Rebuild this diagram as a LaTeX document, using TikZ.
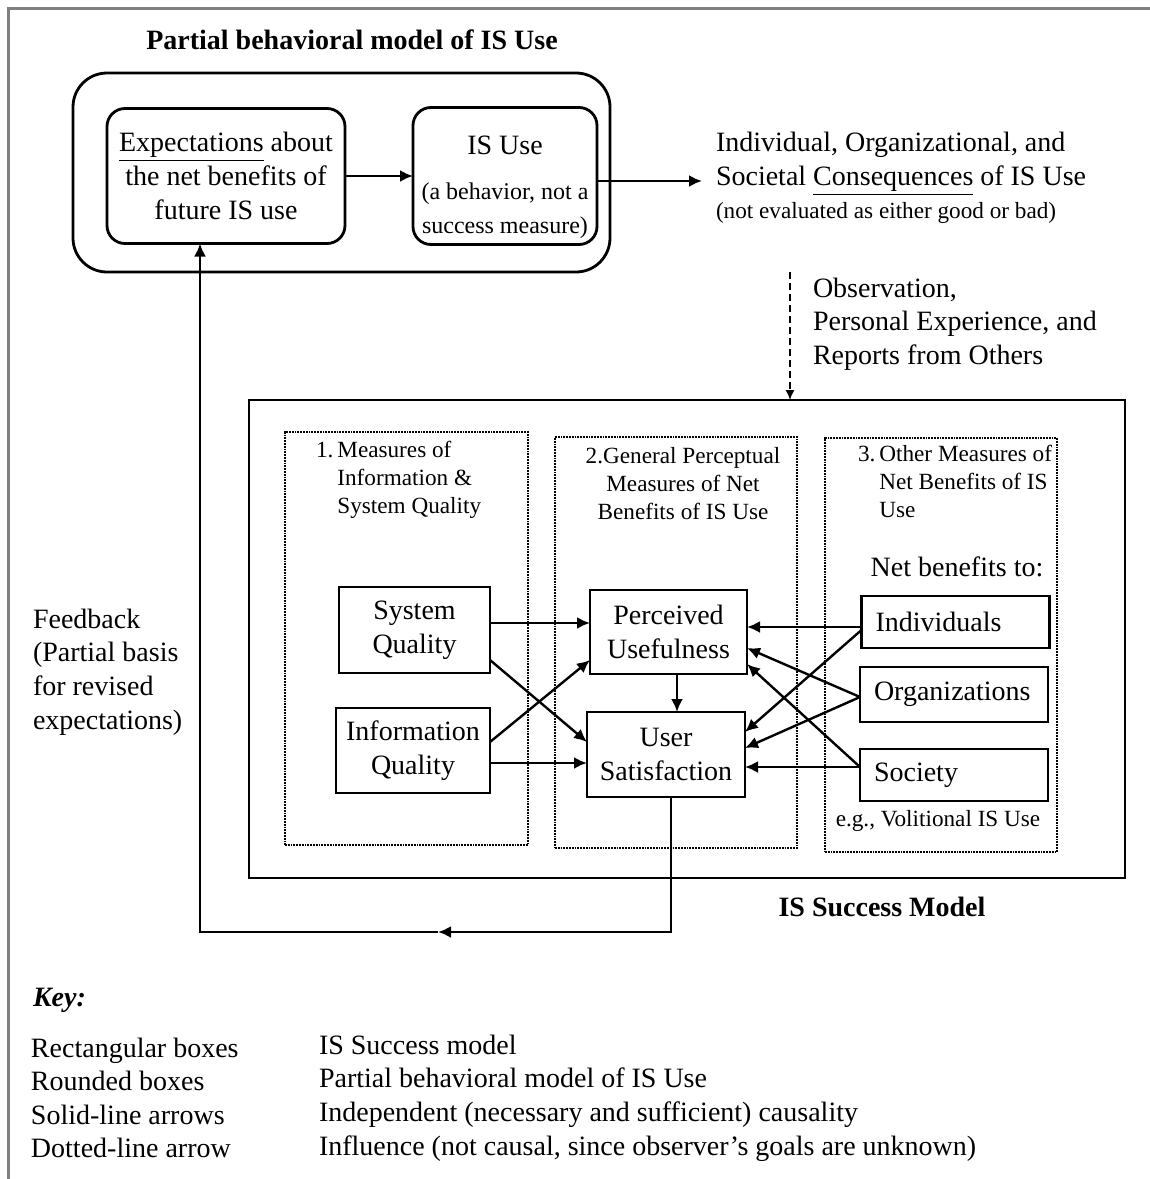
\documentclass[tikz,border=0pt]{standalone}
\usepackage{fontspec}
\setmainfont{Liberation Serif}
\usetikzlibrary{arrows.meta}
\newcommand\txtA{\fontsize{14}{16.8}\selectfont}
\newcommand\txtB{\fontsize{11.6}{14}\selectfont}
\newcommand\txtC{\fontsize{12}{13.6}\selectfont}
\definecolor{framegray}{RGB}{128,128,128}

\begin{document}
\begin{tikzpicture}[x=0.5pt,y=-0.5pt,
  every node/.style={inner sep=0pt, outer sep=0pt},
  sqbox/.style={draw, line width=1.4pt, align=center, font=\txtA},
  rbox/.style={sqbox, rounded corners=9pt},
  listbox/.style={sqbox, align=left, text width=80pt, inner xsep=7pt, minimum height=26pt},
  dotbox/.style={draw, line width=0.6pt, dash pattern=on 0.9pt off 0.5pt},
  arr/.style={line width=1.2pt, -{Latex[length=6.5pt,width=6pt]}},
  influence/.style={line width=0.7pt, dash pattern=on 3.5pt off 2pt, -{Latex[length=5pt,width=4.5pt]}},
  lbl/.style={font=\txtA, align=left}]

% page and frame
\fill[white] (0,0) rectangle (1150,1179);
\useasboundingbox (0,0) rectangle (1150,1179);
\draw[framegray, line width=1.5pt] (8,1179) -- (8,8) -- (1150,8);

% partial behavioral model of IS use
\node[font=\bfseries\txtA] (pbmtitle) at (352,40) {Partial behavioral model of IS Use};
\node[draw, line width=1.4pt, rounded corners=17pt, minimum width=268.5pt, minimum height=99.5pt] (pbm) at (341.5,172.5) {};
\node[rbox, minimum width=119pt, minimum height=67.5pt] (expect) at (226,176)
  {\underline{Expectations} about\\the net benefits of\\future IS use};
\node[rbox, minimum width=92pt, minimum height=68.5pt] (isuse) at (505,176) {};
\node[align=center, font=\txtA] (isusetext) at (505,187)
  {IS Use\\[6pt]\txtC (a behavior, not a\\\txtC success measure)};
\draw[arr] (expect.east) -- (isuse.west);

% consequences
\node[lbl, anchor=west] (conseq) at (716,178)
  {Individual, Organizational, and\\Societal \underline{Consequences} of IS Use\\\txtB (not evaluated as either good or bad)};
\draw[arr] ([yshift=-2.5pt]isuse.east) -- ([yshift=-2.5pt,xshift=-7pt]isuse.east -| conseq.west);

% IS success model
\node[draw, line width=1.4pt, minimum width=438pt, minimum height=239pt] (ism) at (687,639) {};
\node[font=\bfseries\txtA] (ismlabel) at (882,907) {IS Success Model};

% observation / influence
\coordinate (obsstart) at (790,272);
\draw[influence] (obsstart) -- (obsstart |- ism.north);
\node[lbl, anchor=west] (obs) at (813,324)
  {Observation,\\Personal Experience, and\\Reports from Others};

% measure groups
\node[dotbox, minimum width=121.5pt, minimum height=206.5pt] (grp1) at (406.5,638.5) {};
\node[dotbox, minimum width=121pt, minimum height=205.5pt] (grp2) at (676,642.5) {};
\node[dotbox, minimum width=116pt, minimum height=207pt] (grp3) at (941,645) {};

\node[anchor=north west, font=\txtB] (head1) at (316,438)
  {\begin{tabular}{@{}l@{\hspace{2pt}}l@{}}1.&Measures of\\&Information \&\\&System Quality\end{tabular}};
\node[font=\txtB, align=center] (head2) at (683,484)
  {2.General Perceptual\\Measures of Net\\Benefits of IS Use};
\node[anchor=north west, font=\txtB] (head3) at (858,442)
  {\begin{tabular}{@{}l@{\hspace{2pt}}l@{}}3.&Other Measures of\\&Net Benefits of IS\\&Use\end{tabular}};
\node[font=\txtA] (nbto) at (957,567) {Net benefits to:};

% measures
\node[sqbox, minimum width=75.5pt, minimum height=43pt] (sq) at (414.5,630) {System\\Quality};
\node[sqbox, minimum width=77pt, minimum height=42.5pt] (iq) at (413,750.5) {Information\\Quality};
\node[sqbox, minimum width=78.5pt, minimum height=42pt] (pu) at (668.5,632) {Perceived\\Usefulness};
\node[sqbox, minimum width=79pt, minimum height=42.5pt] (us) at (666,754.5) {User\\Satisfaction};
\node[listbox] (ind) at (955.5,622) {Individuals};
\node[listbox, minimum height=27.5pt] (org) at (954,694.5) {Organizations};
\node[listbox] (soc) at (954,775) {Society};
\node[font=\txtB] (eg) at (938,821) {e.g., Volitional IS Use};

% causal links
\draw[arr] ([yshift=3.5pt]sq.east) -- ([yshift=3.5pt]sq.east -| pu.west);
\draw[arr] ([yshift=-15pt]sq.east) -- ([yshift=6.25pt]us.west);
\draw[arr] ([yshift=4.25pt]iq.east) -- ([yshift=-14pt]pu.west);
\draw[arr] ([yshift=-6.25pt]iq.east) -- ([yshift=-6.25pt]iq.east -| us.west);
\draw[arr] ([xshift=4.25pt]pu.south) -- ([xshift=4.25pt]pu.south |- us.north);
\draw[arr] ([yshift=-2.5pt]ind.west) -- ([yshift=-2.5pt]ind.west -| pu.east);
\draw[arr] ([yshift=-4pt]ind.west) -- ([yshift=11.25pt]us.east);
\draw[arr] ([yshift=-1.25pt]org.west) -- ([yshift=-8pt]pu.east);
\draw[arr] ([yshift=-1.25pt]org.west) -- ([yshift=3.25pt]us.east);
\draw[arr] ([yshift=4pt]soc.west) -- ([yshift=-16pt]pu.east);
\draw[arr] ([yshift=4pt]soc.west) -- ([yshift=4pt]soc.west -| us.east);

% feedback loop
\coordinate (fbR) at (671,932);
\coordinate (fbmid) at (438,932);
\coordinate (fbL) at (200,932);
\draw[arr] (us.south -| fbR) -- (fbR) -- (fbmid);
\draw[arr] (fbmid) -- (fbL) -- (fbL |- expect.south);
\node[lbl, anchor=west] (fbtext) at (33,672)
  {Feedback\\(Partial basis\\for revised\\expectations)};

% key
\node[font=\bfseries\itshape\txtA, anchor=west] (keyhead) at (33,1000) {Key:};
\node[lbl, anchor=west] (keyleft) at (31,1098)
  {Rectangular boxes\\Rounded boxes\\Solid-line arrows\\Dotted-line arrow};
\node[lbl, anchor=west] (keyright) at (319,1098)
  {IS Success model\\Partial behavioral model of IS Use\\Independent (necessary and sufficient) causality\\Influence (not causal, since observer's goals are unknown)};
\end{tikzpicture}
\end{document}
